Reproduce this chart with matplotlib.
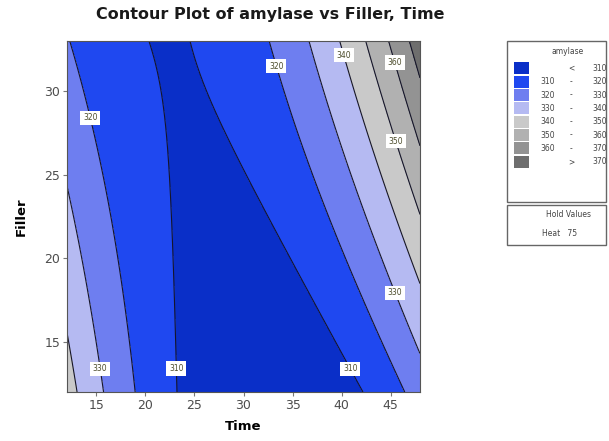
import numpy as np
import matplotlib
matplotlib.use("Agg")
from matplotlib import pyplot as plt
from matplotlib.patches import Rectangle

# Fitted response surface for amylase (Heat held at 75)
terms = ["Constant", "Time", "Filler", "Time*Time", "Filler*Filler", "Time*Filler"]
coefs = [437.79, -7.788, -2.444, 0.101, 0.00305, 0.09858]

time_range = [12, 48]
filler_range = [12, 33]
levels = [310, 320, 330, 340, 350, 360, 370]
band_colors = ["#0a2fc8", "#1f48f0", "#6e7ef0", "#b5baf2",
               "#c9c9c9", "#b1b1b1", "#939393", "#6e6e6e"]
hold_factor = "Heat"
hold_value = 75

x_ticks = [15, 20, 25, 30, 35, 40, 45]
y_ticks = [15, 20, 25, 30]


def amylase(t, f):
    b0, bt, bf, btt, bff, btf = coefs
    return b0 + bt * t + bf * f + btt * t * t + bff * f * f + btf * t * f


W, H = 609, 441


def fx(px):
    return px / W


def fy(py):
    return 1 - py / H


fig = plt.figure(figsize=(W / 100, H / 100), dpi=100)
ax = fig.add_axes([fx(67), fy(392), (420 - 67) / W, (392 - 41) / H])

tt, ff = np.meshgrid(np.linspace(*time_range, 300), np.linspace(*filler_range, 300))
zz = amylase(tt, ff)

bounds = [zz.min() - 1] + levels + [zz.max() + 1]
ax.contourf(tt, ff, zz, levels=bounds, colors=band_colors)
cs = ax.contour(tt, ff, zz, levels=levels, colors="#15152a", linewidths=0.8)

# contour labels, horizontal in white boxes
spots = [(14.3, 28.4), (15.5, 13.4), (23.4, 13.4), (40.9, 13.4), (32.8, 31.4),
         (39.9, 32.1), (45.3, 31.7), (45.5, 27.0), (45.3, 17.9)]
labels = ax.clabel(cs, inline=False, fontsize=5.5, fmt="%d", manual=spots, colors="#4b4b2a")
for lb in labels:
    lb.set_rotation(0)
    lb.set_bbox(dict(boxstyle="square,pad=0.35", fc="white", ec="none"))

ax.set_xlim(time_range)
ax.set_ylim(filler_range)
ax.set_xticks(x_ticks)
ax.set_yticks(y_ticks)
ax.tick_params(direction="out", length=3, width=0.8, colors="#777777",
               labelcolor="#4d4d4d", labelsize=9, pad=2)
for s in ax.spines.values():
    s.set_color("#555555")
    s.set_linewidth(0.8)
ax.set_xlabel("Time", fontsize=9.5, fontweight="bold", labelpad=6)
ax.set_ylabel("Filler", fontsize=9.5, fontweight="bold", labelpad=12)

fig.text(fx(270), fy(15), "Contour Plot of amylase vs Filler, Time",
         ha="center", va="center", fontsize=11.5, fontweight="bold", color="#1a1a1a")

# legend panel
box = dict(fill=False, ec="#666666", lw=1.0, transform=fig.transFigure)
fig.patches.append(Rectangle((fx(507), fy(202)), (606 - 507) / W, (202 - 41) / H, **box))
fig.patches.append(Rectangle((fx(507), fy(245)), (606 - 507) / W, (245 - 205) / H, **box))
fig.text(fx(568), fy(52), "amylase", ha="center", va="center", fontsize=5.5, color="#444444")

row_y = 68.3
for i, c in enumerate(band_colors):
    y0 = row_y + i * 13.35
    fig.patches.append(Rectangle((fx(514), fy(y0 + 6)), 15 / W, 12 / H,
                                 fc=c, ec="none", transform=fig.transFigure))
    if i == 0:
        lo, mid, hi = "", "<", str(levels[0])
    elif i == len(band_colors) - 1:
        lo, mid, hi = "", ">", str(levels[-1])
    else:
        lo, mid, hi = str(levels[i - 1]), "-", str(levels[i])
    kw = dict(va="center", fontsize=5.5, color="#444444")
    fig.text(fx(548), fy(y0), lo, ha="center", **kw)
    fig.text(fx(571), fy(y0), mid, ha="center", **kw)
    fig.text(fx(600), fy(y0), hi, ha="center", **kw)

fig.text(fx(568), fy(215), "Hold Values", ha="center", va="center", fontsize=5.5, color="#444444")
fig.text(fx(560), fy(233), f"{hold_factor}   {hold_value}", ha="center", va="center",
         fontsize=5.5, color="#444444")

fig.savefig("out.png", dpi=100)
